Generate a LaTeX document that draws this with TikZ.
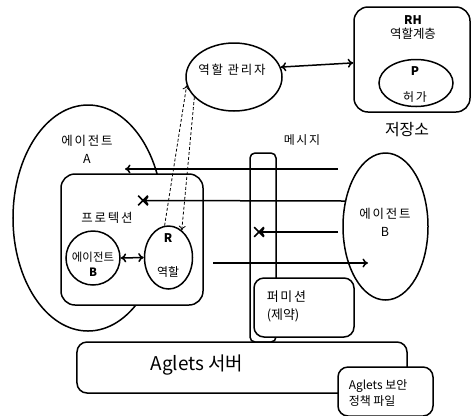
\documentclass[tikz,border=0pt]{standalone}
\usepackage{fontspec}
\setmainfont{Noto Sans CJK KR}
\newfontfamily\krsp[LetterSpace=14]{Noto Sans CJK KR}
\usetikzlibrary{arrows.meta,shapes.geometric,shapes.misc}

\begin{document}
\begin{tikzpicture}[x=1bp,y=-1bp,
  line width=1.5bp,
  outl/.style={draw, line width=1.5bp, inner sep=0pt},
  oval/.style={outl, ellipse},
  rbox/.style={outl, rectangle, rounded corners=#1, fill=white},
  rbox/.default=14bp,
  txt/.style={font=\fontsize{12}{16}\selectfont, inner sep=0pt, align=center},
  arr/.style={-{To[length=5.5bp,width=9bp]}},
  darr/.style={{To[length=5.5bp,width=9bp]}-{To[length=5.5bp,width=9bp]}},
  dsh/.style={line width=0.8bp, dash pattern=on 3bp off 2bp, -{To[length=4.5bp,width=7bp]}},
  blocked/.style={draw, cross out, line width=1.6bp, minimum size=8bp, inner sep=0pt}
]
\useasboundingbox (0,0) rectangle (472,415);

% agent A and its protection domain
\node[oval, minimum width=150bp, minimum height=226bp] (ea) at (88,218) {};
\node[rbox, minimum width=142bp, minimum height=131bp] (prot) at (132,239.5) {};
\node[oval, minimum width=54bp, minimum height=54bp] (ebs) at (93,258) {};
\node[oval, minimum width=48bp, minimum height=63bp] (r) at (168.5,257.5) {};
\draw[darr] (ebs.east) -- (r.west);

% role manager and repository
\node[oval, minimum width=96bp, minimum height=68bp] (rm) at (234,77) {};
\node[rbox, minimum width=116bp, minimum height=105bp] (rh) at (412,59.5) {};
\node[oval, minimum width=74bp, minimum height=47bp] (p) at (416,83) {};
\draw[darr] (rm.12) -- (rh);

% message channel
\node[rbox=5bp, fill=none, minimum width=26bp, minimum height=189bp] (bar) at (263,247.5) {};

% agent B
\node[oval, minimum width=85bp, minimum height=147bp] (eb) at (385.5,226.5) {};

% messages
\coordinate (m1s) at (338,169);
\coordinate (m1e) at (125,169);
\coordinate (m2s) at (345,201);
\coordinate (m3s) at (338,232);
\coordinate (m4s) at (213,263);
\coordinate (m4e) at (368,263);
\node[blocked] (x1) at (143,200.5) {};
\node[blocked] (x2) at (259,232) {};
\draw[arr] (m1s) -- (m1e);
\draw[arr] (m2s) -- (x1.center);
\draw[arr] (m3s) -- (x2.center);
\draw[arr] (m4s) -- (m4e);

% permission, server and policy file
\node[rbox=10bp, minimum width=100bp, minimum height=59bp] (perm) at (304,307.5) {};
\node[rbox=10bp, minimum width=330bp, minimum height=51bp] (srv) at (242,367.5) {};
\node[rbox=10bp, minimum width=95bp, minimum height=49bp] (pol) at (385.5,391.5) {};

% role activation between role manager and role R
\draw[dsh] (r.97) -- (rm.190);
\draw[dsh] (rm.207) -- (r.64);

% labels
\node[txt, font=\krsp\fontsize{12.5}{18}\selectfont] (tea) at (87,149) {에이전트\\A};
\node[txt, font=\krsp\fontsize{12.5}{16}\selectfont] (tprot) at (107,218) {프로텍션};
\node[txt, font=\fontsize{11.5}{15}\selectfont] (tebs) at (93,264) {에이전트\\\bfseries B};
\node[txt, font=\bfseries\fontsize{12}{16}\selectfont] (tr) at (168,238) {R};
\node[txt] (trole) at (168,272) {역할};
\node[txt, font=\krsp\fontsize{12.5}{16}\selectfont] (trm) at (232,70) {역할 관리자};
\node[txt, font=\bfseries\fontsize{12}{16}\selectfont] (trh) at (413,20) {RH};
\node[txt, font=\fontsize{12.5}{16}\selectfont] (trhk) at (413,34) {역할계층};
\node[txt, font=\bfseries\fontsize{12}{16}\selectfont] (tp) at (415,71) {P};
\node[txt, font=\krsp\fontsize{12}{16}\selectfont] (tperm) at (415,97) {허가};
\node[txt, font=\fontsize{16}{20}\selectfont] (trepo) at (407,130) {저장소};
\node[txt, font=\krsp\fontsize{12}{16}\selectfont] (tmsg) at (302,140) {메시지};
\node[txt, font=\krsp\fontsize{12.5}{18}\selectfont] (teb) at (385,222) {에이전트\\B};
\node[txt, font=\fontsize{13}{18}\selectfont, align=left, anchor=west] (tpm) at (266,306) {{\krsp 퍼미션}\\(제약)};
\node[txt, font=\fontsize{19}{22}\selectfont] (tsrv) at (197,365) {Aglets 서버};
\node[txt, font=\fontsize{12}{17}\selectfont, align=left, anchor=west] (tpol) at (348,393) {Aglets 보안\\정책 파일};
\end{tikzpicture}
\end{document}
